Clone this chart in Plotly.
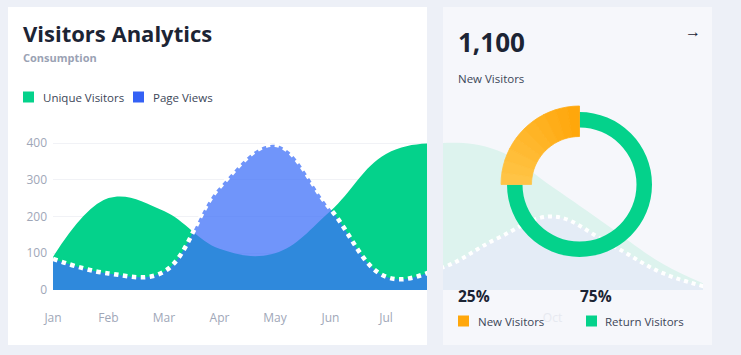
import plotly.graph_objects as go

# ---------------- data ----------------
months = ["Jan", "Feb", "Mar", "Apr", "May", "Jun", "Jul", "Aug", "Sep", "Oct", "Nov", "Dec", "Jan"]
unique_visitors = [90, 250, 215, 112, 100, 215, 370, 400, 380, 280, 175, 70, 0]
page_views = [85, 45, 50, 280, 395, 220, 36, 60, 140, 200, 128, 45, 0]
y_ticks = [0, 100, 200, 300, 400]
faded_tick_index = [9]

donut_labels = ["New Visitors", "Return Visitors"]
donut_values = [25, 75]
headline_value = "1,100"
headline_label = "New Visitors"

# ---------------- style ----------------
W, H = 741, 355
FONT = "Open Sans"
PAGE_BG = "#EDF0F7"
CARD2_BG = "#F6F7FB"
GREEN = "#04D28B"
BLUE = "#3461F5"
ORANGE = "#FFA70B"
DARK = "#1C2434"
TEXT = "#3C4658"
MUTED = "#A0A7B8"

def fx(p):
    return p / W

def fy(p):
    return 1 - p / H

X0, STEP = 53, 55.5          # pixel of first category, pixels per category
Y0, YSTEP = 290, 0.3675      # pixel of value 0, pixels per unit

x = list(range(len(months)))
y_top_val = 440
y_dom = [fy(Y0), fy(Y0 - y_top_val * YSTEP)]

fig = go.Figure()

# main chart (left card)
fig.add_trace(go.Scatter(
    x=x, y=unique_visitors, mode="lines", name="Unique Visitors",
    line=dict(width=0, color=GREEN, shape="spline", smoothing=1.1),
    fill="tozeroy", fillcolor=GREEN, showlegend=False, hoverinfo="skip",
    xaxis="x", yaxis="y"))
fig.add_trace(go.Scatter(
    x=x, y=page_views, mode="lines", name="Page Views",
    line=dict(width=4.5, color="white", dash="dot", shape="spline", smoothing=1.1),
    fill="tozeroy", fillcolor="rgba(62,112,248,0.74)", showlegend=False, hoverinfo="skip",
    xaxis="x", yaxis="y"))

# faded continuation under right card
fig.add_trace(go.Scatter(
    x=x, y=unique_visitors, mode="lines",
    line=dict(width=0, color="#DDF3EE", shape="spline", smoothing=1.1),
    fill="tozeroy", fillcolor="#DDF3EE", showlegend=False, hoverinfo="skip",
    xaxis="x2", yaxis="y2"))
fig.add_trace(go.Scatter(
    x=x, y=page_views, mode="lines",
    line=dict(width=4, color="white", dash="dot", shape="spline", smoothing=1.1),
    fill="tozeroy", fillcolor="#E4ECF6", showlegend=False, hoverinfo="skip",
    xaxis="x2", yaxis="y2"))

# donut: green ring (return visitors)
cx, cy = 579.5, 184.5
rg = 72.5
fig.add_trace(go.Pie(
    values=[donut_values[1], donut_values[0]],
    labels=[donut_labels[1], donut_labels[0]],
    marker=dict(colors=[GREEN, "rgba(0,0,0,0)"], line=dict(width=0)),
    hole=57 / 72.5, sort=False, direction="clockwise", rotation=0,
    textinfo="none", hoverinfo="skip", showlegend=False,
    domain=dict(x=[fx(cx - rg), fx(cx + rg)], y=[fy(cy + rg), fy(cy - rg)])))

# donut: orange thick segment (new visitors) with a gentle gradient
n_sub = 10
grad_start = (255, 167, 11)
grad_end = (255, 196, 70)
sub_vals = [donut_values[0] / n_sub] * n_sub
sub_cols = []
for i in range(n_sub):
    t = i / (n_sub - 1)
    c = tuple(int(round(a + (b - a) * t)) for a, b in zip(grad_start, grad_end))
    sub_cols.append("rgb(%d,%d,%d)" % c)
ro = 78.5
fig.add_trace(go.Pie(
    values=[donut_values[1]] + sub_vals[::-1],
    marker=dict(colors=["rgba(0,0,0,0)"] + sub_cols[::-1],
                line=dict(width=[0] + [0.8] * n_sub, color=["rgba(0,0,0,0)"] + sub_cols[::-1])),
    hole=48 / 78.5, sort=False, direction="clockwise", rotation=0,
    textinfo="none", hoverinfo="skip", showlegend=False,
    domain=dict(x=[fx(cx - ro), fx(cx + ro)], y=[fy(cy + ro), fy(cy - ro)])))

shapes = [
    dict(type="rect", xref="paper", yref="paper", x0=fx(8), x1=fx(427), y0=fy(345), y1=fy(7),
         fillcolor="white", line=dict(width=0), layer="below"),
    dict(type="rect", xref="paper", yref="paper", x0=fx(443), x1=fx(712), y0=fy(345), y1=fy(7),
         fillcolor=CARD2_BG, line=dict(width=0), layer="below"),
]

def marker(xp, yp, color, s=11):
    return dict(type="rect", xref="paper", yref="paper",
                x0=fx(xp), x1=fx(xp + s), y0=fy(yp + s / 2), y1=fy(yp - s / 2),
                fillcolor=color, line=dict(width=0), layer="above")

shapes += [marker(23, 97, GREEN), marker(133, 97, BLUE),
           marker(458, 321, ORANGE), marker(586, 321, GREEN)]

def ann(text, xp, yp, size, color, bold=False, xanchor="left"):
    return dict(text=("<b>%s</b>" % text) if bold else text, x=fx(xp), y=fy(yp),
                xref="paper", yref="paper", xanchor=xanchor, yanchor="middle",
                showarrow=False, font=dict(family=FONT, size=size, color=color))

annotations = [
    ann("Visitors Analytics", 21, 33, 22, DARK, bold=True),
    ann("Consumption", 21, 57, 11, "#9AA2B4", bold=True),
    ann("Unique Visitors", 41, 97, 11.5, TEXT),
    ann("Page Views", 151, 97, 11.5, TEXT),
    ann(headline_value, 456, 42, 26, DARK, bold=True),
    ann(headline_label, 456, 78, 11.5, TEXT),
    ann("→", 693, 31, 16, DARK, xanchor="center"),
    ann("%d%%" % donut_values[0], 456, 296, 15.5, DARK, bold=True),
    ann("%d%%" % donut_values[1], 578, 296, 15.5, DARK, bold=True),
    ann(donut_labels[0], 476, 321, 11.5, TEXT),
    ann(donut_labels[1], 603, 321, 11.5, TEXT),
]

axis_common = dict(showline=False, zeroline=False, ticks="", fixedrange=True, automargin=False)

fig.update_layout(
    template="none",
    width=W, height=H, margin=dict(l=0, r=0, t=0, b=0, pad=0, autoexpand=False),
    paper_bgcolor=PAGE_BG, plot_bgcolor="rgba(0,0,0,0)",
    font=dict(family=FONT),
    shapes=shapes, annotations=annotations, showlegend=False,
    xaxis=dict(domain=[fx(X0), fx(427)], range=[0, (427 - X0) / STEP],
               tickvals=x, ticktext=months, showgrid=False,
               tickfont=dict(family=FONT, size=12, color=MUTED),
               ticklabelstandoff=19, anchor="y", **axis_common),
    yaxis=dict(domain=y_dom, range=[0, y_top_val], tickvals=y_ticks,
               showgrid=True, gridcolor="#F1F2F6", gridwidth=1,
               tickfont=dict(family=FONT, size=12, color=MUTED),
               ticklabelstandoff=5, anchor="x", **axis_common),
    xaxis2=dict(domain=[fx(443), fx(703)], range=[(443 - X0) / STEP, (703 - X0) / STEP],
                tickvals=[x[i] for i in faded_tick_index],
                ticktext=[months[i] for i in faded_tick_index], showgrid=False,
                tickfont=dict(family=FONT, size=12, color="#E6E9F0"),
                ticklabelstandoff=19, anchor="y2", **axis_common),
    yaxis2=dict(domain=y_dom, range=[0, y_top_val], showgrid=False,
                showticklabels=False, anchor="x2", **axis_common),
)

fig.write_html(
    "out.html",
    config=dict(displayModeBar=False, staticPlot=True),
    post_script="document.body.style.margin='0';document.body.style.overflow='hidden';",
)
